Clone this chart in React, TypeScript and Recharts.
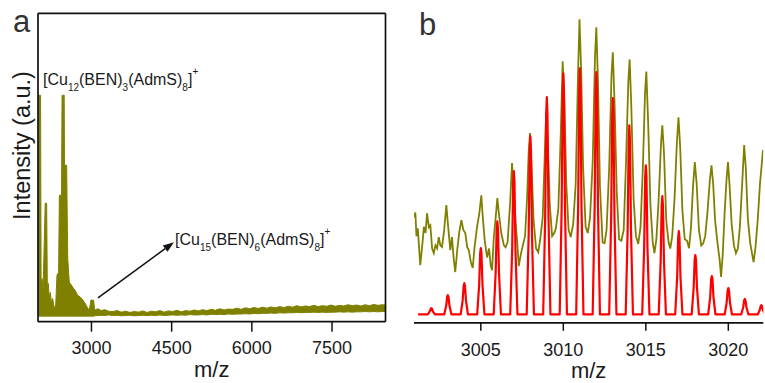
import React from 'react';
import { ComposedChart, Area, Line, XAxis, YAxis, ReferenceLine, ReferenceDot } from 'recharts';

const OLIVE = '#808000';
const RED = '#ff0000';
const INK = '#1a1a1a';
const FONT = '"Liberation Sans", Arial, Helvetica, sans-serif';

// panel a: full spectrum, drawn as a band (low / high envelope)
const spectrumMz = [
  2000, 2048, 2058, 2075, 2095, 2135, 2162, 2175, 2190, 2210, 2230, 2250, 2275, 2300, 2330, 2355,
  2385, 2400, 2440, 2450, 2490, 2496, 2536, 2556, 2585, 2620, 2660, 2700, 2740, 2790, 2840, 2880, 2920,
  2960, 2990, 3040, 3060, 3120, 3180, 3250, 3320, 3400, 3480, 3560, 3640, 3720, 3800, 3880, 3960,
  4040, 4120, 4200, 4280, 4360, 4440, 4520, 4600, 4680, 4760, 4840, 4920, 5000, 5080, 5160, 5240,
  5320, 5400, 5480, 5560, 5640, 5720, 5800, 5880, 5960, 6040, 6120, 6200, 6280, 6360, 6440, 6520,
  6600, 6680, 6760, 6840, 6920, 7000, 7080, 7160, 7240, 7320, 7400, 7480, 7560, 7640, 7720, 7800,
  7880, 7960, 8040, 8120, 8200, 8280, 8360, 8440, 8500,
];
const spectrumLow = [
  1.8, 1.8, 1.8, 1.8, 1.8, 1.8, 1.8, 1.8, 1.8, 1.8, 1.8, 1.8, 1.8, 1.8, 1.8, 1.8,
  1.8, 1.8, 1.8, 1.8, 1.8, 1.8, 1.8, 1.8, 1.8, 1.8, 1.8, 1.8, 1.8, 1.8, 1.8, 1.8, 1.8,
  1.8, 1.8, 1.8, 1.9, 2.0, 2.1, 2.0, 2.2, 2.0, 2.1, 1.9, 2.0, 2.1, 1.9, 2.0, 2.1,
  2.0, 2.1, 2.0, 2.2, 2.0, 2.1, 2.2, 2.1, 2.2, 2.1, 2.3, 2.2, 2.2, 2.3, 2.2, 2.4,
  2.3, 2.4, 2.3, 2.5, 2.4, 2.5, 2.5, 2.6, 2.5, 2.7, 2.6, 2.7, 2.7, 2.8, 2.7, 2.9,
  2.8, 2.9, 2.9, 3.0, 2.9, 3.0, 3.0, 3.1, 3.0, 3.1, 3.0, 3.1, 3.1, 3.2, 3.1, 3.2,
  3.1, 3.2, 3.2, 3.3, 3.2, 3.3, 3.2, 3.3, 3.3,
];
const spectrumHigh = [
  73.4, 73.4, 11.8, 14.0, 10.5, 38.4, 38.4, 10.2, 12.5, 8.0, 9.5, 6.3, 7.5, 4.7, 5.0, 15.1,
  16.0, 41.0, 41.0, 73.4, 73.4, 50.7, 50.7, 20.6, 12.8, 12.0, 10.9, 10.0, 8.6, 8.0, 7.0, 6.0, 4.7,
  3.7, 7.0, 7.0, 3.7, 4.2, 3.6, 3.9, 3.4, 3.3, 3.6, 3.1, 3.4, 3.0, 3.3, 3.1, 3.5,
  3.0, 3.4, 3.2, 3.6, 3.1, 3.5, 3.3, 3.7, 3.2, 3.6, 3.4, 3.8, 3.5, 3.9, 3.6, 4.0,
  3.7, 4.2, 3.8, 4.1, 4.0, 4.4, 4.0, 4.5, 4.2, 4.6, 4.3, 4.7, 4.4, 4.8, 4.5, 4.9,
  4.6, 5.0, 4.7, 5.2, 4.8, 5.1, 4.9, 5.3, 4.9, 5.2, 5.0, 5.4, 5.0, 5.3, 5.1, 5.5,
  5.2, 5.4, 5.1, 5.5, 5.2, 5.6, 5.3, 5.5, 5.4,
];
const ticksA = [3000, 4500, 6000, 7500];

// panel b: experimental isotope pattern
const expMz = [
  3000.98, 3001.03, 3001.1, 3001.18, 3001.33, 3001.45, 3001.55, 3001.65, 3001.74, 3001.85, 3001.94,
  3002.05, 3002.15, 3002.25, 3002.35, 3002.45, 3002.55, 3002.65, 3002.78, 3002.91, 3003.02, 3003.15,
  3003.25, 3003.35, 3003.45, 3003.58, 3003.7, 3003.82, 3003.94, 3004.06, 3004.17, 3004.27, 3004.4,
  3004.51, 3004.62, 3004.77, 3004.9, 3005.03, 3005.12, 3005.24, 3005.38, 3005.5, 3005.6, 3005.68,
  3005.78, 3005.9, 3006.0, 3006.1, 3006.24, 3006.4, 3006.5, 3006.62, 3006.78, 3006.89, 3006.97,
  3007.1, 3007.22, 3007.3, 3007.42, 3007.55, 3007.68, 3007.8, 3007.9, 3007.98, 3008.08, 3008.2,
  3008.35, 3008.48, 3008.6, 3008.75, 3008.88, 3008.96, 3009.06, 3009.18, 3009.32, 3009.45, 3009.55,
  3009.7, 3009.85, 3009.96, 3010.06, 3010.18, 3010.32, 3010.45, 3010.6, 3010.75, 3010.88, 3010.98,
  3011.08, 3011.2, 3011.35, 3011.48, 3011.62, 3011.78, 3011.92, 3012.0, 3012.1, 3012.22, 3012.38,
  3012.5, 3012.62, 3012.78, 3012.92, 3013.0, 3013.1, 3013.24, 3013.38, 3013.52, 3013.66, 3013.8,
  3013.94, 3014.02, 3014.12, 3014.26, 3014.4, 3014.54, 3014.68, 3014.82, 3014.95, 3015.03, 3015.14,
  3015.28, 3015.42, 3015.52, 3015.64, 3015.78, 3015.92, 3016.0, 3016.1, 3016.24, 3016.38, 3016.48,
  3016.6, 3016.74, 3016.88, 3016.98, 3017.08, 3017.22, 3017.36, 3017.5, 3017.62, 3017.74, 3017.86,
  3017.97, 3018.08, 3018.22, 3018.36, 3018.48, 3018.6, 3018.74, 3018.88, 3018.98, 3019.08, 3019.2,
  3019.34, 3019.48, 3019.56, 3019.66, 3019.78, 3019.9, 3019.98, 3020.08, 3020.2, 3020.34, 3020.46,
  3020.58, 3020.7, 3020.84, 3020.96, 3021.06, 3021.18, 3021.32, 3021.45, 3021.53, 3021.64, 3021.78,
  3021.92, 3022.02, 3022.1,
];
const expInt = [
  34.0, 35.7, 28.0, 30.5, 18.6, 25.0, 31.0, 29.0, 35.4, 30.9, 31.5,
  24.0, 22.5, 25.0, 24.0, 27.7, 25.0, 24.5, 30.0, 38.0, 31.0, 23.5,
  27.7, 21.0, 16.4, 24.0, 29.5, 33.2, 30.0, 29.0, 24.5, 23.5, 19.5,
  17.7, 24.5, 30.9, 35.0, 41.2, 34.0, 26.5, 21.1, 24.0, 18.5, 17.0,
  27.0, 34.0, 40.3, 35.0, 29.0, 25.0, 24.4, 26.0, 39.0, 51.6, 45.0,
  33.0, 25.0, 18.3, 22.0, 25.1, 28.0, 40.0, 55.0, 61.3, 50.0, 33.0,
  24.0, 22.8, 27.0, 34.0, 55.0, 67.7, 58.0, 38.0, 28.0, 29.0, 30.5,
  37.0, 62.0, 84.5, 72.0, 45.0, 30.0, 27.7, 32.0, 45.0, 78.0, 98.1,
  82.0, 50.0, 31.0, 29.0, 34.0, 52.0, 86.0, 95.5, 78.0, 44.0, 26.0,
  25.7, 30.0, 50.0, 80.0, 87.4, 72.0, 42.0, 27.0, 26.5, 30.0, 52.0,
  78.0, 85.1, 70.0, 40.0, 28.0, 25.5, 31.0, 50.0, 74.0, 81.2, 65.0,
  38.0, 26.0, 22.5, 27.0, 40.0, 58.0, 63.8, 55.0, 33.0, 26.0, 24.0,
  28.0, 40.0, 58.0, 66.4, 57.0, 36.0, 27.0, 26.5, 24.1, 31.0, 44.0,
  51.9, 45.0, 30.0, 25.0, 25.7, 28.0, 36.0, 46.0, 50.9, 45.0, 33.0,
  26.0, 20.0, 14.8, 22.0, 36.0, 47.0, 51.9, 44.0, 32.0, 25.0, 22.5,
  24.0, 31.0, 45.0, 57.4, 50.0, 34.0, 26.0, 22.0, 19.6, 24.0, 33.0,
  45.0, 50.9, 55.8,
];

// panel b: simulated isotope pattern (peak positions and heights)
const simMz = [
  3002, 3003, 3004, 3005, 3006, 3007, 3008, 3009, 3010, 3011, 3012,
  3013, 3014, 3015, 3016, 3017, 3018, 3019, 3020, 3021, 3022,
];
const simInt = [
  4.7, 8.9, 12.8, 24.1, 32.8, 49.0, 60.3, 72.9, 80.6, 82.2, 81.0,
  72.6, 63.8, 50.9, 40.9, 29.6, 21.9, 15.1, 11.2, 7.7, 5.7,
];
const simBase = 2.7;
// profile of one simulated peak: offset in m/z, fraction of peak height
const peakProfile = [
  [-0.22, 0],
  [-0.1, 0.45],
  [-0.04, 0.92],
  [0, 1],
  [0.04, 0.92],
  [0.1, 0.45],
  [0.22, 0],
];
const ticksB = [3005, 3010, 3015, 3020];

const spectrumData = spectrumMz.map((m, i) => ({ m, r: [spectrumLow[i], spectrumHigh[i]] }));
const expData = expMz.map((m, i) => ({ m, v: expInt[i] }));
const simData = [
  { m: 3001.2, v: simBase },
  ...simMz.flatMap((m, i) =>
    peakProfile.map(([dm, f]) => ({ m: m + dm, v: simBase + f * (simInt[i] - simBase) })),
  ),
];

const frame = { stroke: '#111', strokeWidth: 1.7 };

function Formula({ x, y, n1, n2 }: { x: number; y: number; n1: string; n2: string }) {
  return (
    <text x={x} y={y} fontSize={16} fill={INK} fontFamily={FONT}>
      [Cu
      <tspan fontSize={10} dy={6}>{n1}</tspan>
      <tspan dy={-6}>(BEN)</tspan>
      <tspan fontSize={10} dy={6}>{n2}</tspan>
      <tspan dy={-6}>(AdmS)</tspan>
      <tspan fontSize={10} dy={6}>8</tspan>
      <tspan dy={-6}>]</tspan>
      <tspan fontSize={10} dy={-10}>+</tspan>
    </text>
  );
}

function Arrow(p: any) {
  const { x1, y1, x2, y2 } = p;
  const a = Math.atan2(y2 - y1, x2 - x1);
  const len = 11;
  const hw = 4;
  const bx = x2 - len * Math.cos(a);
  const by = y2 - len * Math.sin(a);
  const px = -Math.sin(a) * hw;
  const py = Math.cos(a) * hw;
  return (
    <g>
      <line x1={x1} y1={y1} x2={bx} y2={by} stroke="#111" strokeWidth={1.5} />
      <polygon points={`${x2},${y2} ${bx + px},${by + py} ${bx - px},${by - py}`} fill="#111" />
    </g>
  );
}

function YTitle(props: any) {
  const vb = props.viewBox;
  const x = vb.x + vb.width - 8;
  const y = vb.y + vb.height / 2 - 22;
  return (
    <text x={x} y={y} transform={`rotate(-90 ${x} ${y})`} textAnchor="middle" fontSize={23.5} fill={INK} fontFamily={FONT}>
      Intensity (a.u.)
    </text>
  );
}

export default function App() {
  return (
    <div style={{ position: 'absolute', left: 0, top: 0, width: 765, height: 383, background: '#fff', fontFamily: FONT }}>
      <div style={{ position: 'absolute', left: 0, top: 0 }}>
        <ComposedChart width={400} height={383} data={spectrumData} margin={{ top: 12.3, right: 13.5, bottom: 1.3, left: 37 }}>
          <XAxis
            dataKey="m"
            type="number"
            domain={[2000, 8500]}
            allowDataOverflow
            ticks={ticksA}
            height={60}
            tickSize={10}
            tickMargin={10}
            axisLine={frame}
            tickLine={{ stroke: '#111', strokeWidth: 1.5 }}
            tick={{ fontSize: 18, fill: INK }}
            label={{ value: 'm/z', position: 'insideBottom', offset: 5, fontSize: 22, fill: INK }}
          />
          <XAxis
            xAxisId="top"
            orientation="top"
            type="number"
            domain={[2000, 8500]}
            ticks={ticksA}
            height={1}
            tick={false}
            tickLine={false}
            axisLine={frame}
          />
          <YAxis
            type="number"
            domain={[0, 100]}
            allowDataOverflow
            width={1}
            tick={false}
            tickLine={false}
            axisLine={frame}
            label={YTitle}
          />
          <YAxis
            yAxisId="right"
            orientation="right"
            type="number"
            domain={[0, 100]}
            width={1}
            tick={false}
            tickLine={false}
            axisLine={frame}
          />
          <Area
            dataKey="r"
            type="linear"
            stroke={OLIVE}
            strokeWidth={1}
            fill={OLIVE}
            fillOpacity={1}
            dot={false}
            activeDot={false}
            isAnimationActive={false}
          />
          <ReferenceLine segment={[{ x: 3122, y: 7.7 }, { x: 4544, y: 25.8 }]} shape={Arrow} />
          <ReferenceDot x={2093} y={76.75} r={0} shape={(p: any) => <Formula x={p.cx} y={p.cy} n1="12" n2="3" />} />
          <ReferenceDot x={4563} y={24.9} r={0} shape={(p: any) => <Formula x={p.cx} y={p.cy} n1="15" n2="6" />} />
        </ComposedChart>
      </div>
      <div style={{ position: 'absolute', left: 400, top: 0 }}>
        <ComposedChart width={365} height={383} margin={{ top: 13.3, right: 1.7, bottom: 0.2, left: 14 }}>
          <XAxis
            dataKey="m"
            type="number"
            domain={[3000.95, 3022.12]}
            allowDataOverflow
            ticks={ticksB}
            height={60}
            tickSize={8}
            tickMargin={12}
            axisLine={frame}
            tickLine={{ stroke: '#111', strokeWidth: 1.5 }}
            tick={{ fontSize: 18, fill: INK }}
            label={{ value: 'm/z', position: 'insideBottom', offset: 5, fontSize: 22, fill: INK }}
          />
          <YAxis type="number" domain={[0, 100]} allowDataOverflow hide />
          <Line data={expData} dataKey="v" type="linear" stroke={OLIVE} strokeWidth={1.8} dot={false} activeDot={false} isAnimationActive={false} />
          <Line data={simData} dataKey="v" type="linear" stroke={RED} strokeWidth={2.2} strokeLinejoin="round" dot={false} activeDot={false} isAnimationActive={false} />
        </ComposedChart>
      </div>
      <div style={{ position: 'absolute', left: 13, top: 4, fontSize: 31, color: '#333', lineHeight: '36px' }}>a</div>
      <div style={{ position: 'absolute', left: 419, top: 7, fontSize: 31, color: '#333', lineHeight: '36px' }}>b</div>
    </div>
  );
}
